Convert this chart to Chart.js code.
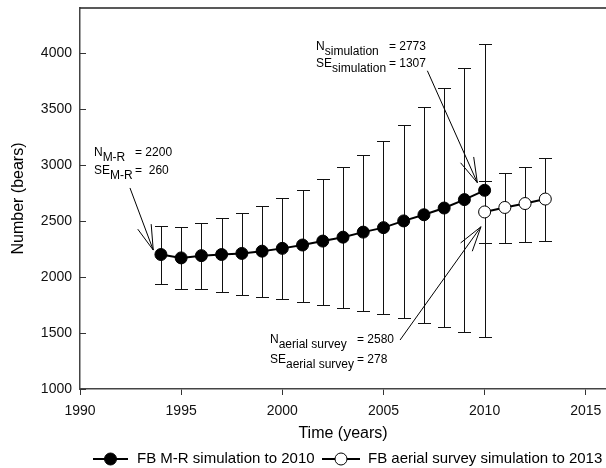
<!DOCTYPE html>
<html>
<head>
<meta charset="utf-8">
<script src="https://cdn.jsdelivr.net/npm/chart.js"></script>
<style>
  html, body { margin: 0; padding: 0; background: #fff; }
  #wrap { width: 606px; height: 468px; }
</style>
</head>
<body>
<div id="wrap"><canvas id="chart" width="606" height="468"></canvas></div>
<script>
// M-R simulation, 1994 - 2010
const mrYears = [1994, 1995, 1996, 1997, 1998, 1999, 2000, 2001, 2002, 2003, 2004, 2005, 2006, 2007, 2008, 2009, 2010];
const mrMean  = [2200, 2170, 2190, 2200, 2210, 2230, 2255, 2285, 2320, 2355, 2400, 2440, 2500, 2555, 2615, 2690, 2773];
const mrUpper = [2455, 2445, 2485, 2525, 2570, 2635, 2705, 2780, 2870, 2980, 3090, 3215, 3355, 3515, 3685, 3865, 4080];
const mrLower = [1935, 1890, 1888, 1868, 1838, 1823, 1802, 1774, 1750, 1726, 1697, 1665, 1630, 1590, 1550, 1510, 1466];

// aerial survey simulation, 2010 - 2013
const aerialYears = [2010, 2011, 2012, 2013];
const aerialMean  = [2580, 2620, 2655, 2695];
const aerialUpper = [2858, 2925, 2985, 3065];
const aerialLower = [2302, 2302, 2313, 2317];

const xTicks = [1990, 1995, 2000, 2005, 2010, 2015];
const yTicks = [1000, 1500, 2000, 2500, 3000, 3500, 4000];

const seriesLabels = ['FB M-R simulation to 2010', 'FB aerial survey simulation to 2013'];

// annotation texts
const annoSubs   = ['M-R', 'simulation', 'aerial survey'];
const annoNText  = ['= 2200', '= 2773', '= 2580'];
const annoSEText = ['=  260', '= 1307', '= 278'];

const fontFam = '"Liberation Sans", Arial, Helvetica, sans-serif';

// where the annotations sit, in data units (year, bears)
const annoPlace = [
  { textX: 1990.69, eqX: 1992.72, rows: [3079, 2919], tail: [1992.47, 2794], tip: [1993.62, 2240] },
  { textX: 2001.67, eqX: 2005.27, rows: [4025, 3876], tail: [2007.17, 3840], tip: [2009.64, 2841] },
  { textX: 1999.39, eqX: 2003.69, rows: [1408, 1229], tail: [2005.82, 1437], tip: [2009.82, 2448] }
];

const toPoints = (xs, ys) => xs.map((v, i) => ({ x: v, y: ys[i] }));

function drawArrow(ctx, x0, y0, x1, y1) {
  const ang = Math.atan2(y1 - y0, x1 - x0);
  const len = 26, half = 16 * Math.PI / 180;
  ctx.beginPath();
  ctx.moveTo(x0, y0);
  ctx.lineTo(x1, y1);
  ctx.moveTo(x1 - len * Math.cos(ang - half), y1 - len * Math.sin(ang - half));
  ctx.lineTo(x1, y1);
  ctx.lineTo(x1 - len * Math.cos(ang + half), y1 - len * Math.sin(ang + half));
  ctx.stroke();
}

function drawLegendItem(ctx, x0, x1, cy, fill, label, tx) {
  ctx.strokeStyle = '#000';
  ctx.lineWidth = 2;
  ctx.beginPath();
  ctx.moveTo(x0, cy);
  ctx.lineTo(x1, cy);
  ctx.stroke();
  ctx.beginPath();
  ctx.arc((x0 + x1) / 2, cy, 6, 0, Math.PI * 2);
  ctx.fillStyle = fill;
  ctx.fill();
  ctx.lineWidth = 1;
  ctx.stroke();
  ctx.fillStyle = '#000';
  ctx.font = '15px ' + fontFam;
  ctx.textAlign = 'left';
  ctx.textBaseline = 'middle';
  ctx.fillText(label, tx, cy);
}

const decor = {
  id: 'decor',
  beforeDatasetsDraw(chart) {
    const { ctx, scales: { x, y } } = chart;
    ctx.save();
    ctx.strokeStyle = '#111';
    ctx.lineWidth = 1;
    const bars = (years, lo, hi) => years.forEach((yr, i) => {
      const px = Math.round(x.getPixelForValue(yr)) + 0.5;
      const pl = Math.round(y.getPixelForValue(lo[i])) + 0.5;
      const ph = Math.round(y.getPixelForValue(hi[i])) + 0.5;
      ctx.beginPath();
      ctx.moveTo(px, pl); ctx.lineTo(px, ph);
      ctx.moveTo(px - 6.5, pl); ctx.lineTo(px + 6.5, pl);
      ctx.moveTo(px - 6.5, ph); ctx.lineTo(px + 6.5, ph);
      ctx.stroke();
    });
    bars(mrYears, mrLower, mrUpper);
    bars(aerialYears, aerialLower, aerialUpper);
    ctx.restore();
  },
  afterDraw(chart) {
    const { ctx, chartArea: area, scales: { x, y } } = chart;
    ctx.save();

    // top frame line
    ctx.strokeStyle = '#222';
    ctx.lineWidth = 1.5;
    ctx.beginPath();
    ctx.moveTo(area.left, area.top);
    ctx.lineTo(area.right, area.top);
    ctx.stroke();

    // y ticks point inward
    ctx.lineWidth = 1;
    ctx.strokeStyle = '#333';
    y.ticks.forEach(t => {
      const py = Math.round(y.getPixelForValue(t.value)) + 0.5;
      ctx.beginPath();
      ctx.moveTo(area.left, py);
      ctx.lineTo(area.left + 6, py);
      ctx.stroke();
    });

    // annotations
    ctx.fillStyle = '#000';
    ctx.strokeStyle = '#000';
    ctx.textAlign = 'left';
    ctx.textBaseline = 'alphabetic';
    annoPlace.forEach((a, i) => {
      const tx = x.getPixelForValue(a.textX);
      const ex = x.getPixelForValue(a.eqX);
      [['N', annoNText[i]], ['SE', annoSEText[i]]].forEach(([main, val], r) => {
        const base = y.getPixelForValue(a.rows[r]);
        ctx.font = '12px ' + fontFam;
        ctx.fillText(main, tx, base);
        const w = ctx.measureText(main).width;
        ctx.fillText(annoSubs[i], tx + w, base + 5);
        ctx.fillText(val, ex, base);
      });
      ctx.lineWidth = 1;
      drawArrow(ctx,
        x.getPixelForValue(a.tail[0]), y.getPixelForValue(a.tail[1]),
        x.getPixelForValue(a.tip[0]), y.getPixelForValue(a.tip[1]));
    });

    // legend
    const ds = chart.data.datasets;
    drawLegendItem(ctx, 93, 128, 459, ds[0].pointBackgroundColor, ds[0].label, 137);
    drawLegendItem(ctx, 322, 360, 459, ds[1].pointBackgroundColor, ds[1].label, 368);

    ctx.restore();
  }
};

new Chart(document.getElementById('chart'), {
  type: 'line',
  data: {
    datasets: [
      {
        label: seriesLabels[0],
        data: toPoints(mrYears, mrMean),
        borderColor: '#000',
        borderWidth: 2,
        pointRadius: 6,
        pointBackgroundColor: '#000',
        pointBorderColor: '#000',
        pointBorderWidth: 1,
        tension: 0
      },
      {
        label: seriesLabels[1],
        data: toPoints(aerialYears, aerialMean),
        borderColor: '#000',
        borderWidth: 2,
        pointRadius: 6,
        pointBackgroundColor: '#fff',
        pointBorderColor: '#000',
        pointBorderWidth: 1,
        tension: 0
      }
    ]
  },
  options: {
    responsive: false,
    animation: false,
    layout: { autoPadding: false, padding: { top: 8, left: 0, right: 0, bottom: 0 } },
    plugins: {
      legend: { display: false },
      tooltip: { enabled: false }
    },
    scales: {
      x: {
        type: 'linear',
        min: 1990,
        max: 2016,
        afterBuildTicks: s => { s.ticks = xTicks.map(v => ({ value: v })); },
        afterFit: s => { s.height = 79; s.paddingLeft = 0; s.paddingRight = 0; },
        grid: { drawOnChartArea: false, drawTicks: true, tickLength: 6, color: '#333' },
        border: { color: '#444', width: 1.5 },
        ticks: { color: '#111', font: { family: fontFam, size: 14 }, padding: 8, maxRotation: 0, callback: v => String(v) },
        title: { display: true, text: 'Time (years)', color: '#000', font: { family: fontFam, size: 16 }, padding: { top: 0, bottom: 25 } }
      },
      y: {
        min: 1000,
        max: 4400,
        afterBuildTicks: s => { s.ticks = yTicks.map(v => ({ value: v })); },
        afterFit: s => { s.width = 80; s.paddingTop = 0; s.paddingBottom = 0; },
        grid: { display: false, drawTicks: false },
        border: { display: true, color: '#444', width: 1.5 },
        ticks: { color: '#111', font: { family: fontFam, size: 14 }, padding: 8, callback: v => String(v) },
        title: { display: true, text: 'Number (bears)', color: '#000', font: { family: fontFam, size: 16 }, padding: { top: 9, bottom: 0 } }
      }
    }
  },
  plugins: [decor]
});
</script>
</body>
</html>
